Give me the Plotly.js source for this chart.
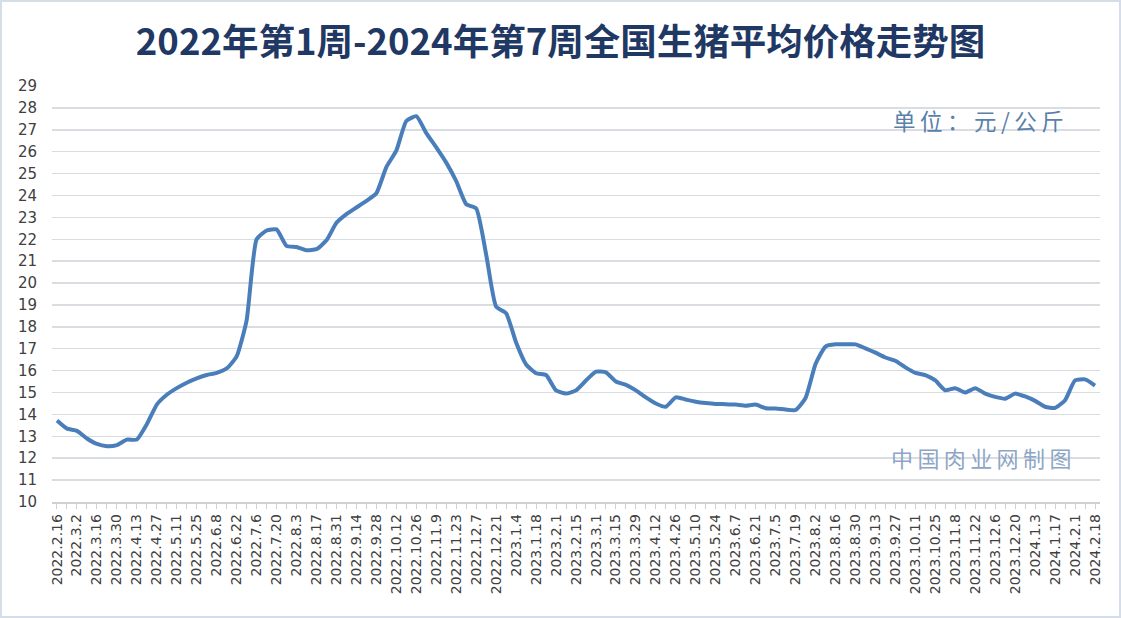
<!DOCTYPE html>
<html>
<head>
<meta charset="utf-8">
<script src="https://cdn.plot.ly/plotly-3.0.1.min.js"></script>
<style>
  html, body { margin: 0; padding: 0; background: #ffffff; }
  #wrap { position: relative; width: 1121px; height: 618px; }
  #chart { width: 1121px; height: 618px; }
  #frame { position: absolute; left: 0; top: 0; width: 1117px; height: 614px; border: 2px solid #d5dde8; pointer-events: none; }
</style>
</head>
<body>
<div id="wrap"><div id="chart"></div><div id="frame"></div></div>
<script>
// Weekly dates (categories)
const weeks = [
  "2022.2.16","2022.2.23","2022.3.2","2022.3.9","2022.3.16","2022.3.23","2022.3.30","2022.4.6","2022.4.13","2022.4.20",
  "2022.4.27","2022.5.4","2022.5.11","2022.5.18","2022.5.25","2022.6.1","2022.6.8","2022.6.15","2022.6.22","2022.6.29",
  "2022.7.6","2022.7.13","2022.7.20","2022.7.27","2022.8.3","2022.8.10","2022.8.17","2022.8.24","2022.8.31","2022.9.7",
  "2022.9.14","2022.9.21","2022.9.28","2022.10.5","2022.10.12","2022.10.19","2022.10.26","2022.11.2","2022.11.9","2022.11.16",
  "2022.11.23","2022.11.30","2022.12.7","2022.12.14","2022.12.21","2022.12.28","2023.1.4","2023.1.11","2023.1.18","2023.1.25",
  "2023.2.1","2023.2.8","2023.2.15","2023.2.22","2023.3.1","2023.3.8","2023.3.15","2023.3.22","2023.3.29","2023.4.5",
  "2023.4.12","2023.4.19","2023.4.26","2023.5.3","2023.5.10","2023.5.17","2023.5.24","2023.5.31","2023.6.7","2023.6.14",
  "2023.6.21","2023.6.28","2023.7.5","2023.7.12","2023.7.19","2023.7.26","2023.8.2","2023.8.9","2023.8.16","2023.8.23",
  "2023.8.30","2023.9.6","2023.9.13","2023.9.20","2023.9.27","2023.10.4","2023.10.11","2023.10.18","2023.10.25","2023.11.1",
  "2023.11.8","2023.11.15","2023.11.22","2023.11.29","2023.12.6","2023.12.13","2023.12.20","2023.12.27","2024.1.3","2024.1.10",
  "2024.1.17","2024.1.24","2024.2.1","2024.2.8","2024.2.18"
];

// Average live hog price, yuan/kg
const prices = [
  13.72,13.35,13.25,12.9,12.65,12.55,12.6,12.85,12.85,13.55,
  14.45,14.9,15.2,15.45,15.65,15.8,15.9,16.1,16.65,18.3,
  22.0,22.4,22.45,21.7,21.65,21.5,21.55,21.95,22.75,23.15,
  23.45,23.75,24.1,25.3,26.05,27.4,27.62,26.85,26.2,25.5,
  24.65,23.6,23.4,21.3,18.92,18.62,17.28,16.28,15.88,15.8,
  15.1,14.95,15.1,15.55,15.95,15.92,15.5,15.35,15.1,14.78,
  14.5,14.35,14.78,14.68,14.58,14.52,14.48,14.47,14.45,14.4,
  14.45,14.28,14.27,14.22,14.2,14.75,16.3,17.1,17.2,17.2,
  17.2,17.02,16.82,16.6,16.45,16.15,15.9,15.8,15.55,15.1,
  15.2,15.0,15.2,14.95,14.8,14.72,14.95,14.82,14.62,14.35,
  14.3,14.65,15.55,15.6,15.32
];

const titleText = "2022年第1周-2024年第7周全国生猪平均价格走势图";
const unitText = "单位：元/公斤";
const sourceText = "中国肉业网制图";

const tickText = weeks.map((w, i) => (i % 2 === 0 ? w : ""));
const spaced = s => Array.from(s).join("\u2009");

const trace = {
  type: "scatter",
  mode: "lines",
  x: weeks,
  y: prices,
  line: { color: "#4a7ebb", width: 4, shape: "spline", smoothing: 0.5 },
  hoverinfo: "x+y"
};

const layout = {
  width: 1121,
  height: 618,
  margin: { l: 52, r: 21, t: 86, b: 116 },
  paper_bgcolor: "#ffffff",
  plot_bgcolor: "#ffffff",
  showlegend: false,
  title: {
    text: "<b>" + titleText + "</b>",
    font: { family: "Noto Sans CJK SC, Noto Sans, sans-serif", size: 36.5, color: "#1f3864" },
    x: 0.5, xanchor: "center", xref: "container",
    y: 0.932, yanchor: "middle", yref: "container"
  },
  xaxis: {
    type: "category",
    range: [-0.5, 104.5],
    tickmode: "array",
    tickvals: weeks,
    ticktext: tickText,
    tickangle: -90,
    ticks: "outside",
    ticklen: 5,
    tickcolor: "#d0d0d0",
    tickwidth: 1,
    showline: true,
    linecolor: "#d0d0d0",
    linewidth: 1.5,
    showgrid: false,
    zeroline: false,
    tickfont: { family: "DejaVu Sans, sans-serif", size: 14, color: "#404040" }
  },
  yaxis: {
    range: [10, 29],
    dtick: 1,
    tick0: 10,
    showgrid: true,
    gridcolor: "#d9dde2",
    gridwidth: 1.5,
    zeroline: false,
    showline: false,
    ticks: "",
    ticklabelstandoff: 14,
    tickfont: { family: "DejaVu Sans, sans-serif", size: 15, color: "#404040" }
  },
  annotations: [
    {
      text: spaced(unitText),
      xref: "paper", yref: "paper",
      x: 0.968, y: 0.918, xanchor: "right", yanchor: "middle",
      showarrow: false,
      font: { family: "Noto Sans CJK SC, sans-serif", size: 22.5, color: "#5a7fab" }
    },
    {
      text: spaced(sourceText),
      xref: "paper", yref: "paper",
      x: 0.974, y: 0.108, xanchor: "right", yanchor: "middle",
      showarrow: false,
      font: { family: "Noto Sans CJK SC, sans-serif", size: 22, color: "#8ea6c6" }
    }
  ]
};

Plotly.newPlot("chart", [trace], layout, { displayModeBar: false, staticPlot: true });
</script>
</body>
</html>
